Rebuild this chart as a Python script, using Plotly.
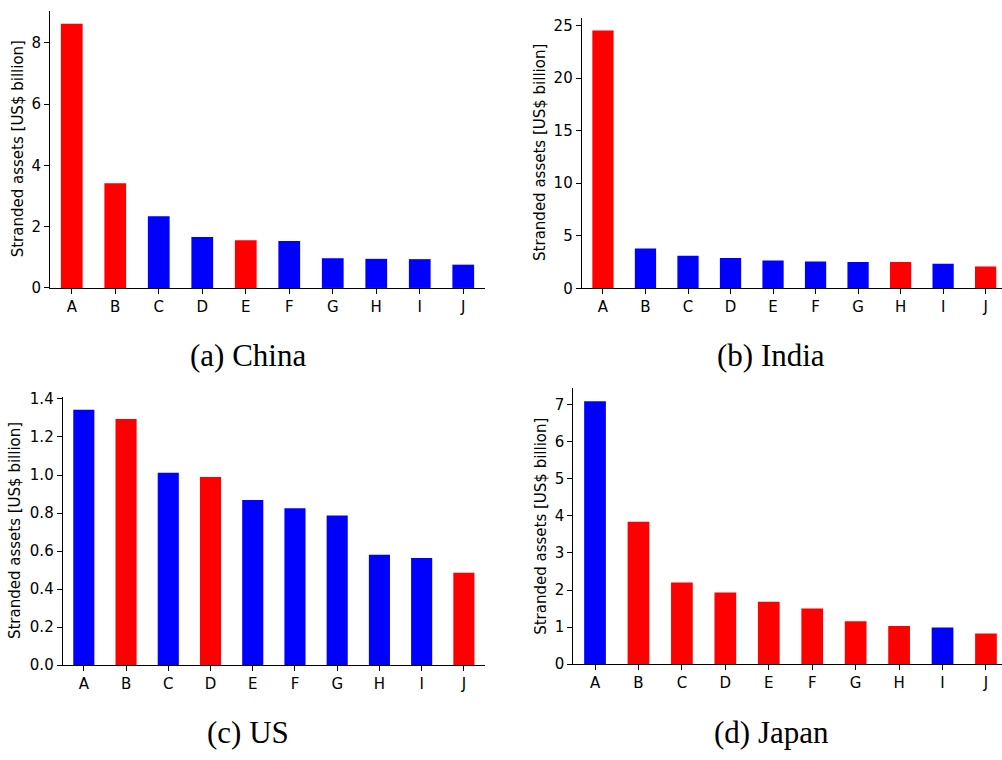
import plotly.graph_objects as go

W, H = 1002, 760

categories = ["A", "B", "C", "D", "E", "F", "G", "H", "I", "J"]

china = [8.62, 3.42, 2.34, 1.66, 1.56, 1.53, 0.97, 0.95, 0.94, 0.76]
china_group = ["r", "r", "b", "b", "r", "b", "b", "b", "b", "b"]

india = [24.54, 3.79, 3.10, 2.89, 2.64, 2.54, 2.51, 2.51, 2.33, 2.08]
india_group = ["r", "b", "b", "b", "b", "b", "b", "r", "b", "r"]

us = [1.343, 1.295, 1.012, 0.990, 0.869, 0.825, 0.787, 0.580, 0.563, 0.486]
us_group = ["b", "r", "b", "r", "b", "b", "b", "b", "b", "r"]

japan = [7.09, 3.84, 2.20, 1.93, 1.68, 1.50, 1.16, 1.03, 0.99, 0.83]
japan_group = ["b", "r", "r", "r", "r", "r", "r", "r", "b", "r"]

panel_titles = ["(a) China", "(b) India", "(c) US", "(d) Japan"]
y_title = "Stranded assets [US$ billion]"

y_ticks = [
    [0, 2, 4, 6, 8],
    [0, 5, 10, 15, 20, 25],
    [0.0, 0.2, 0.4, 0.6, 0.8, 1.0, 1.2, 1.4],
    [0, 1, 2, 3, 4, 5, 6, 7],
]
y_ticktext = [
    ["0", "2", "4", "6", "8"],
    ["0", "5", "10", "15", "20", "25"],
    ["0.0", "0.2", "0.4", "0.6", "0.8", "1.0", "1.2", "1.4"],
    ["0", "1", "2", "3", "4", "5", "6", "7"],
]

COLORS = {"r": "#ff0000", "b": "#0000ff"}

# pixel geometry of each axes box: (left, right, top, bottom), x range right end
boxes = [
    (50.0, 485.0, 3.7, 287.0, 9.5),
    (581.7, 1002.0, 10.8, 287.3, 9.385),
    (62.7, 485.0, 398.4, 672.3, 9.5),
    (573.3, 1002.0, 389.3, 671.3, 9.369),
]
title_pos = [(247.5, 356.0), (771.0, 356.0), (248.0, 741.0), (771.0, 741.0)]
ylabel_x = [18.0, 540.0, 15.0, 540.7]

series = [(china, china_group), (india, india_group), (us, us_group), (japan, japan_group)]

fig = go.Figure()
layout = dict(
    width=W, height=H,
    margin=dict(l=0, r=0, t=0, b=0),
    paper_bgcolor="white", plot_bgcolor="white",
    showlegend=False,
    font=dict(family="DejaVu Sans", size=14.5, color="black"),
    annotations=[],
)

for i, ((vals, grp), (l, r, t, b, xr)) in enumerate(zip(series, boxes)):
    n = i + 1
    xa = "x" if n == 1 else f"x{n}"
    ya = "y" if n == 1 else f"y{n}"
    fig.add_trace(go.Bar(
        x=categories, y=vals,
        marker=dict(color=[COLORS[g] for g in grp], line=dict(width=0)),
        width=0.5, xaxis=xa, yaxis=ya, hoverinfo="x+y",
    ))
    ymax = max(vals) * 1.05
    xkey = "xaxis" if n == 1 else f"xaxis{n}"
    ykey = "yaxis" if n == 1 else f"yaxis{n}"
    layout[xkey] = dict(
        domain=[l / W, r / W], anchor=ya, type="category",
        range=[-0.5, xr], showgrid=False, zeroline=False,
        showline=True, linecolor="black", linewidth=1,
        ticks="outside", ticklen=5, tickwidth=1, tickcolor="black",
        tickfont=dict(family="DejaVu Sans", size=15, color="black"),
        fixedrange=True,
    )
    layout[ykey] = dict(
        domain=[1 - b / H, 1 - t / H], anchor=xa,
        range=[0, ymax], showgrid=False, zeroline=False,
        showline=True, linecolor="black", linewidth=1,
        ticks="outside", ticklen=5, tickwidth=1, tickcolor="black",
        tickmode="array", tickvals=y_ticks[i], ticktext=y_ticktext[i],
        tickfont=dict(family="DejaVu Sans", size=15, color="black"),
        fixedrange=True,
    )
    layout["annotations"].append(dict(
        text=y_title, textangle=-90, showarrow=False,
        xref="paper", yref="paper",
        x=ylabel_x[i] / W, y=1 - ((t + b) / 2) / H,
        xanchor="center", yanchor="middle",
        font=dict(family="DejaVu Sans", size=15, color="black"),
    ))
    tx, ty = title_pos[i]
    layout["annotations"].append(dict(
        text=panel_titles[i], showarrow=False,
        xref="paper", yref="paper",
        x=tx / W, y=1 - ty / H,
        xanchor="center", yanchor="middle",
        font=dict(family="Liberation Serif", size=31, color="black"),
    ))

fig.update_layout(**layout)
fig.write_html(
    "out.html",
    config={"displayModeBar": False},
    post_script="document.body.style.margin='0';document.body.style.overflow='hidden';",
)
